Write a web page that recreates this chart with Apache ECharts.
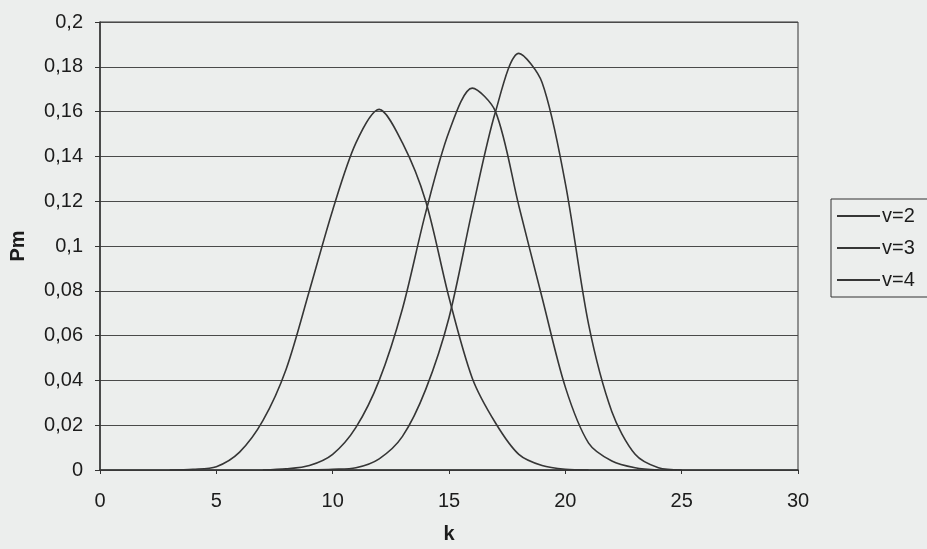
<!DOCTYPE html>
<html>
<head>
<meta charset="utf-8">
<script src="https://cdn.jsdelivr.net/npm/echarts@6/dist/echarts.min.js"></script>
<style>
  html, body { margin: 0; padding: 0; background: #eceeed; }
  #chart { width: 927px; height: 549px; }
</style>
</head>
<body>
<div id="chart"></div>
<script>
// k values and Pm values for each curve
let k1 = [3, 4, 5, 6, 7, 8, 9, 10, 11, 12, 13, 14, 15, 16, 17, 18, 19, 20, 21];
let p1 = [0, 0.0003, 0.0015, 0.008, 0.022, 0.045, 0.08, 0.116, 0.146, 0.161, 0.146, 0.12, 0.077, 0.041, 0.021, 0.007, 0.002, 0.0003, 0];

let k2 = [7, 8, 9, 10, 11, 12, 13, 14, 15, 16, 17, 18, 19, 20, 21, 22, 23, 24];
let p2 = [0, 0.0005, 0.002, 0.007, 0.019, 0.04, 0.072, 0.115, 0.151, 0.1705, 0.16, 0.118, 0.077, 0.037, 0.012, 0.004, 0.001, 0];

let k3 = [9, 10, 11, 12, 13, 14, 15, 16, 17, 18, 19, 20, 21, 22, 23, 24, 25];
let p3 = [0, 0.0003, 0.001, 0.005, 0.015, 0.036, 0.068, 0.116, 0.16, 0.186, 0.173, 0.128, 0.065, 0.026, 0.007, 0.001, 0];

let names = ['v=2', 'v=3', 'v=4'];

function pairs(ks, ps) {
    return ks.map(function(k, i) { return [k, ps[i]]; });
}

let font = '"Liberation Sans", Arial, sans-serif';
let ink = '#1c1c1c';
let curve = '#363636';

let chart = echarts.init(document.getElementById('chart'));

let series = [pairs(k1, p1), pairs(k2, p2), pairs(k3, p3)].map(function(d, i) {
    return {
        name: names[i],
        type: 'line',
        data: d,
        smooth: 0.3,
        symbol: 'none',
        lineStyle: { color: curve, width: 1.6 },
        itemStyle: { color: curve }
    };
});

chart.setOption({
    backgroundColor: '#eceeed',
    animation: false,
    grid: {
        left: 99, right: 129, top: 22, bottom: 76,
        show: true, borderColor: '#333', borderWidth: 1
    },
    legend: {
        orient: 'vertical',
        left: 831, top: 199,
        padding: [6, 40, 6, 6],
        icon: 'rect',
        itemWidth: 43, itemHeight: 2, itemGap: 10,
        borderColor: '#333', borderWidth: 1,
        itemStyle: { color: curve },
        textStyle: { fontFamily: font, fontSize: 20, lineHeight: 22, color: ink, padding: [0, 0, 0, -3] },
        data: names
    },
    xAxis: {
        type: 'value',
        min: 0, max: 30, interval: 5,
        name: 'k',
        nameLocation: 'middle',
        nameGap: 54,
        nameTextStyle: { fontFamily: font, fontSize: 20, fontWeight: 'bold', color: ink },
        axisLine: { lineStyle: { color: '#333', width: 1.5 } },
        axisTick: { length: 4, lineStyle: { color: '#333' } },
        axisLabel: { fontFamily: font, fontSize: 20, color: ink, margin: 21 },
        splitLine: { show: false }
    },
    yAxis: {
        type: 'value',
        min: 0, max: 0.2, interval: 0.02,
        name: 'Pm',
        nameLocation: 'middle',
        nameGap: 72,
        nameTextStyle: { fontFamily: font, fontSize: 20, fontWeight: 'bold', color: ink },
        axisLine: { show: true, lineStyle: { color: '#333', width: 1.5 } },
        axisTick: { show: true, length: 5, lineStyle: { color: '#333' } },
        axisLabel: {
            fontFamily: font, fontSize: 20, color: ink, margin: 17,
            formatter: function(v) { return String(+v.toFixed(2)).replace('.', ','); }
        },
        splitLine: { lineStyle: { color: '#4a4a4a', width: 1 } }
    },
    series: series
});
</script>
</body>
</html>
